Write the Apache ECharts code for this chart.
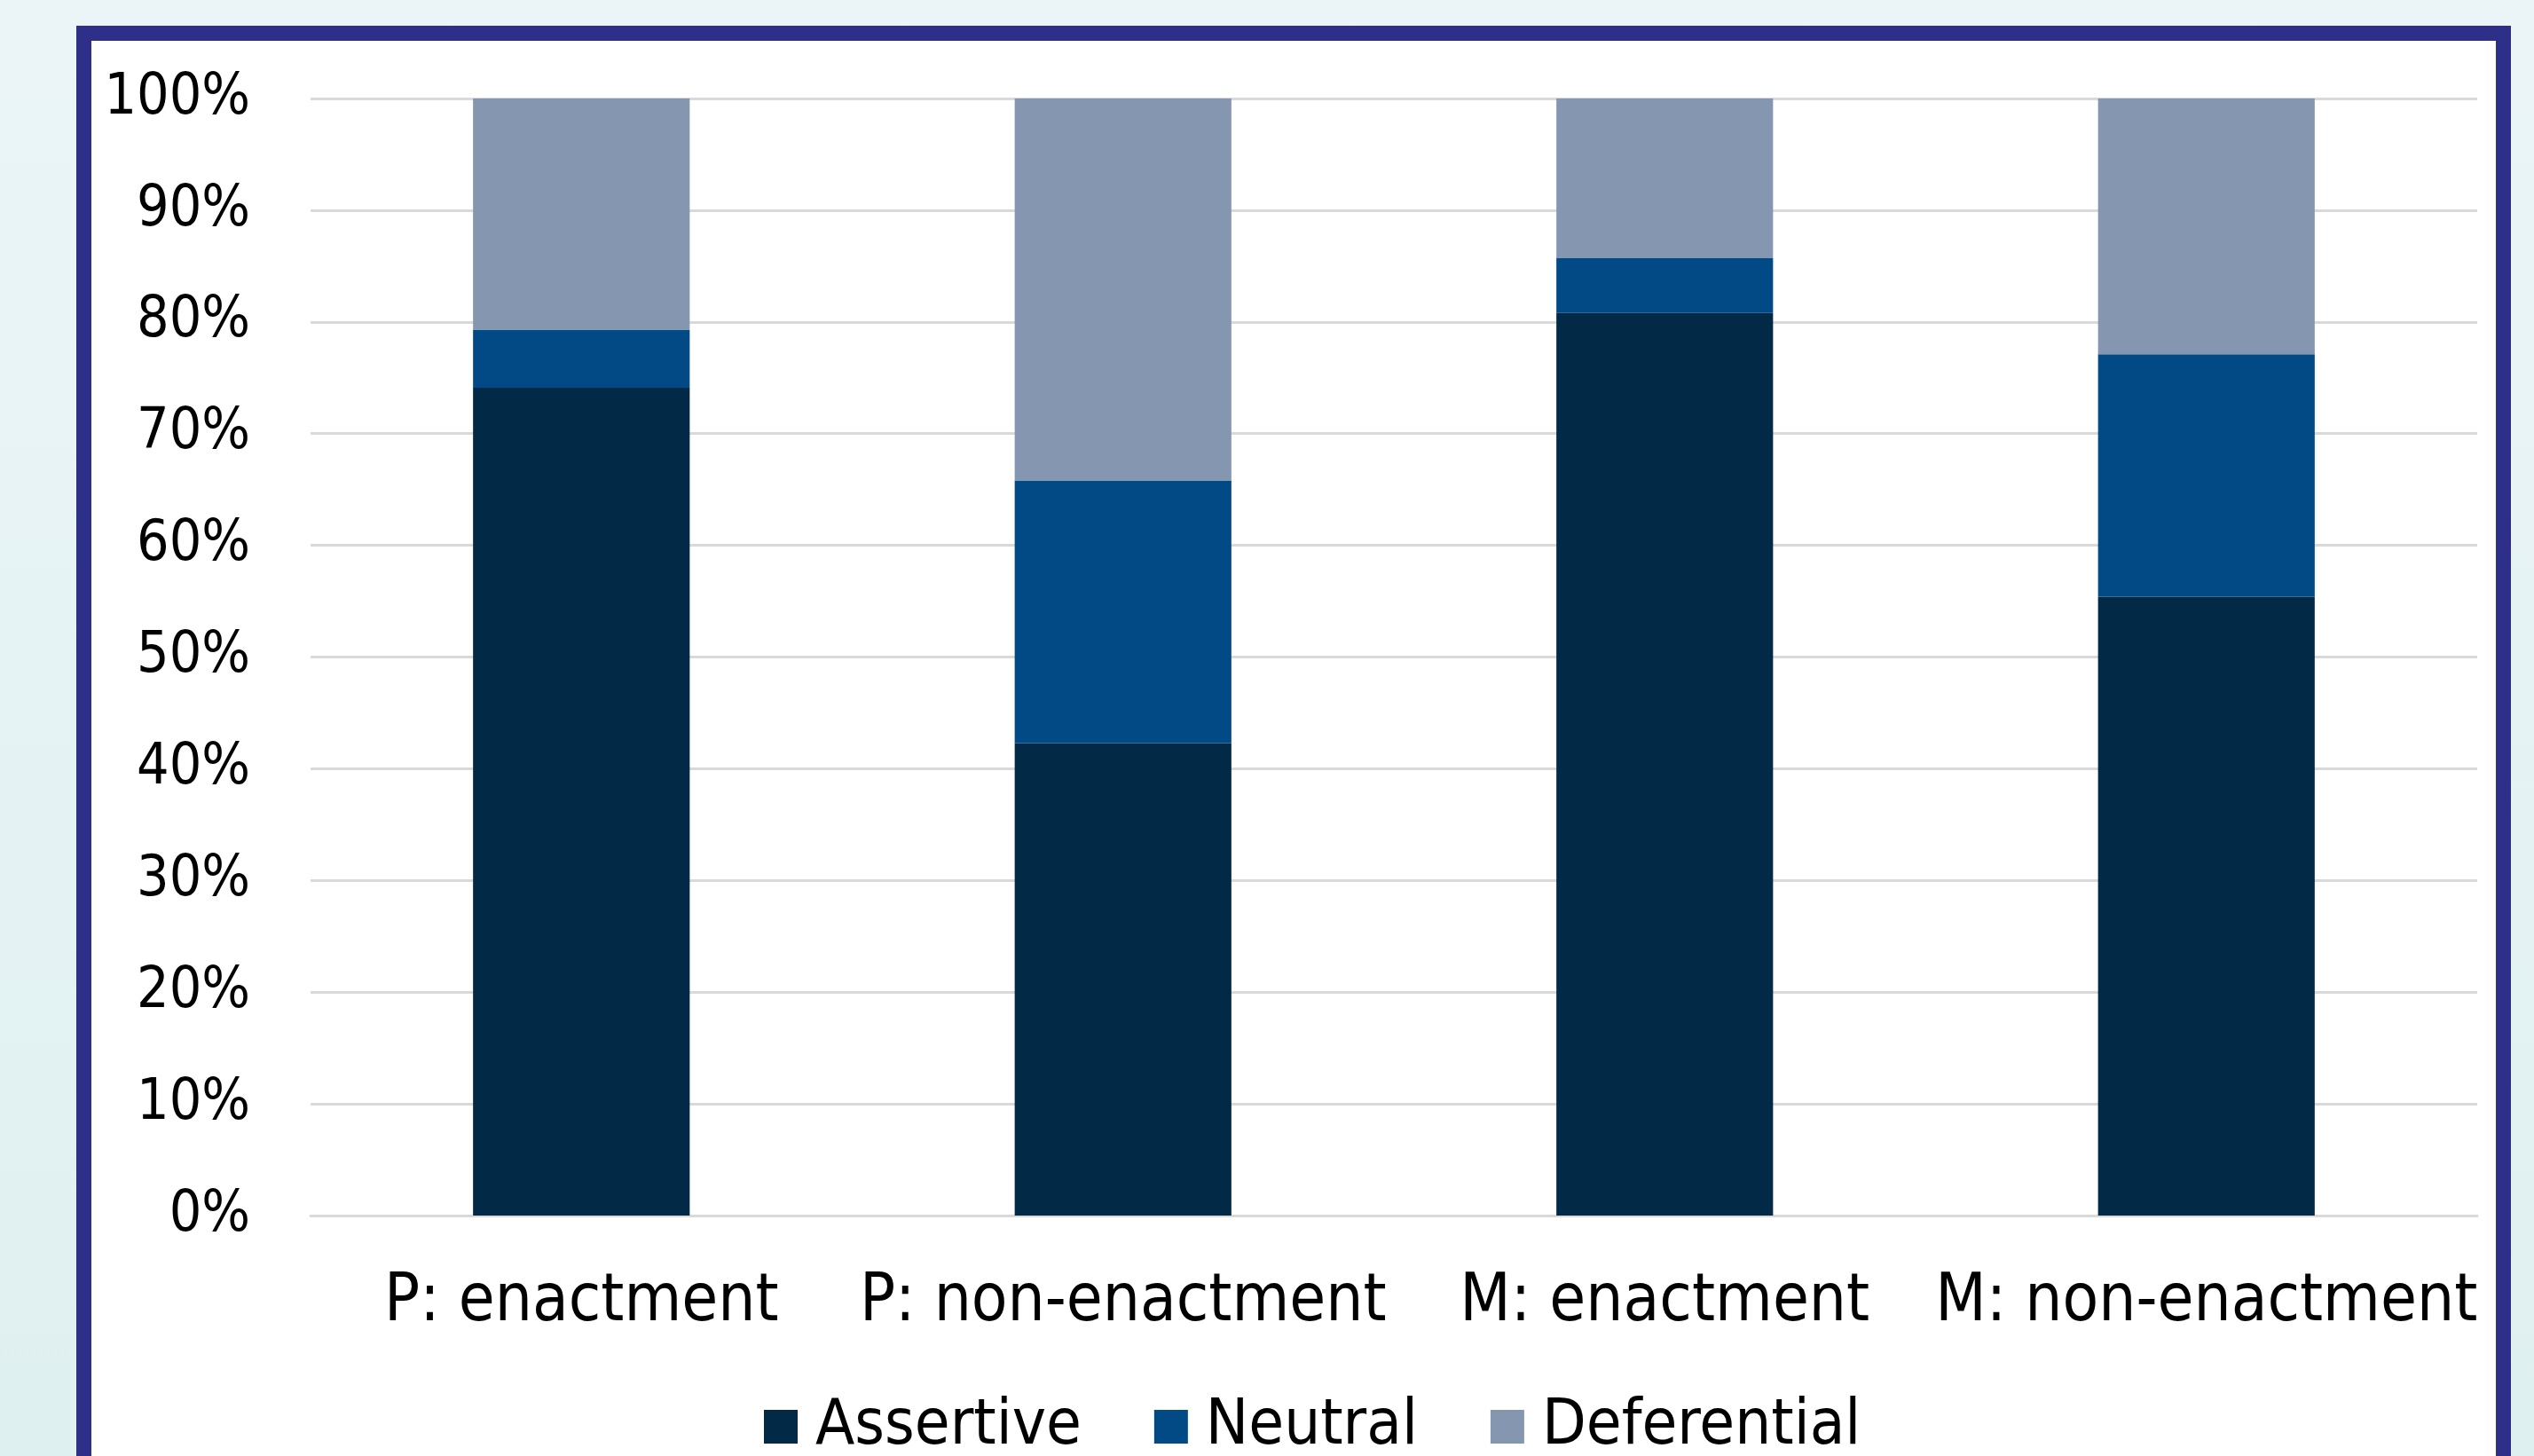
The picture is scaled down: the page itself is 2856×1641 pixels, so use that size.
<!DOCTYPE html>
<html>
<head>
<meta charset="utf-8">
<title>Assertive, neutral and deferential responses</title>
<script src="https://cdn.jsdelivr.net/npm/echarts@6/dist/echarts.min.js"></script>
<style>
  html, body { margin: 0; padding: 0; width: 2856px; height: 1641px; overflow: hidden;
    background: linear-gradient(180deg, #ebf5f7 0%, #e4f2f3 60%, #dff0f0 100%); }
  #frame { position: absolute; left: 86px; top: 29px; width: 2710px; height: 1700px;
    border: 17px solid #2e2f88; background: #ffffff; }
  #chart { position: absolute; left: 0; top: 0; width: 2856px; height: 1641px; }
</style>
</head>
<body>
<div id="frame"></div>
<div id="chart"></div>
<script>
// Share of each response type per condition (percent of responses)
const categories = ['P: enactment', 'P: non-enactment', 'M: enactment', 'M: non-enactment'];
const assertive = [74.1, 42.3, 80.8, 55.4];
const neutral = [5.2, 23.5, 4.9, 21.7];
const deferential = [20.7, 34.2, 14.3, 22.9];
const seriesNames = ['Assertive', 'Neutral', 'Deferential'];
const seriesColors = ['#022945', '#014a85', '#8597b0'];

const FONT = '"DejaVu Sans Condensed", "DejaVu Sans", sans-serif';
const chart = echarts.init(document.getElementById('chart'), null, { renderer: 'canvas' });

const values = [assertive, neutral, deferential];
chart.setOption({
  backgroundColor: 'transparent',
  animation: false,
  textStyle: { fontFamily: FONT, color: '#000' },
  grid: { left: 350, right: 64, top: 111, bottom: 271, containLabel: false },
  legend: {
    left: 861, top: 1572, padding: 0,
    itemWidth: 38, itemHeight: 38, itemGap: 82, icon: 'rect',
    data: seriesNames,
    textStyle: { fontFamily: FONT, fontSize: 72, color: '#000', padding: [0, 0, 0, 15] }
  },
  xAxis: {
    type: 'category',
    data: categories,
    axisTick: { show: false },
    axisLine: { lineStyle: { color: '#d9d9d9', width: 3 } },
    axisLabel: { fontFamily: FONT, fontSize: 74, color: '#000', margin: 62, interval: 0 }
  },
  yAxis: {
    type: 'value',
    min: 0, max: 100, interval: 10,
    axisLine: { show: false },
    axisTick: { show: false },
    splitLine: { lineStyle: { color: '#d9d9d9', width: 3 } },
    axisLabel: { fontFamily: FONT, fontSize: 64, color: '#000', margin: 68, formatter: '{value}%' }
  },
  series: seriesNames.map((name, i) => ({
    name,
    type: 'bar',
    stack: 'total',
    barWidth: '40%',
    itemStyle: { color: seriesColors[i] },
    data: values[i]
  }))
});
</script>
</body>
</html>
